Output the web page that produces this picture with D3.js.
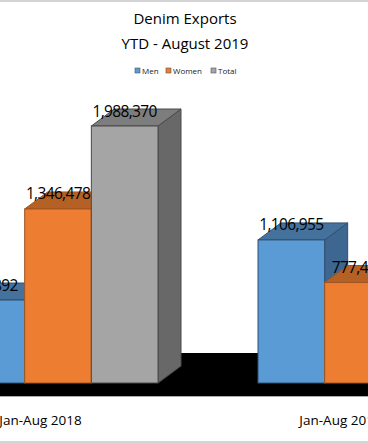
<!DOCTYPE html>
<html>
<head>
<meta charset="utf-8">
<script src="https://cdn.jsdelivr.net/npm/d3@7"></script>
<style>
  html, body { margin: 0; padding: 0; background: #ffffff; overflow: hidden; }
  text { font-family: "Open Sans", sans-serif; fill: #000000; }
</style>
</head>
<body>
<div id="chart"></div>
<script>
// Values (the right part of the chart is cut off by the crop).
const periods = ["Jan-Aug 2018", "Jan-Aug 2019"];
const seriesNames = ["Men", "Women", "Total"];
const men = [641892, 1106955];
const women = [1346478, 777450];
const total = [1988370, 1884405];
const seriesValues = [men, women, total];
const frontColors = ["#5b9bd5", "#ed7d31", "#a5a5a5"];
const topColors = ["#44729d", "#b56126", "#7d7d7d"];
const sideColors = ["#3d6690", "#a35720", "#686868"];
const edgeColors = ["#2f5070", "#a05520", "#4a4a4a"];
const titleLines = ["Denim Exports", "YTD - August 2019"];

const width = 368;
const height = 443;
// Size of the 3D depth offset.
const depthX = 23;
const depthY = 17;
const baseY = 383;

const svg = d3.select("#chart").append("svg")
  .attr("width", width)
  .attr("height", height);

// Scales: one band per period, one sub-band per series.
const x = d3.scaleBand().domain(periods).range([-92, 508]).paddingInner(1 / 3).paddingOuter(1 / 6);
const xSeries = d3.scaleBand().domain(seriesNames).range([0, x.bandwidth()]);
const y = d3.scaleLinear().domain([0, 1988370]).range([baseY, 126]);

// Grey strips of the screenshot frame.
svg.append("rect").attr("x", 0).attr("y", 0).attr("width", width).attr("height", 2).attr("fill", "#d4d4d4");
svg.append("rect").attr("x", 0).attr("y", height - 2).attr("width", width).attr("height", 2).attr("fill", "#d4d4d4");

// Title.
titleLines.forEach((line, i) => {
  svg.append("text")
    .attr("x", 185)
    .attr("y", 24 + i * 25)
    .attr("text-anchor", "middle")
    .attr("font-size", "15px")
    .text(line);
});

// Legend.
const legendX = [135, 166, 211];
seriesNames.forEach((name, i) => {
  svg.append("rect")
    .attr("x", legendX[i])
    .attr("y", 68)
    .attr("width", 5)
    .attr("height", 5)
    .attr("fill", frontColors[i])
    .attr("stroke", "#555555")
    .attr("stroke-width", 0.6);
  svg.append("text")
    .attr("x", legendX[i] + 7)
    .attr("y", 73.5)
    .attr("font-size", "8px")
    .style("fill", "#222222")
    .text(name);
});

// Black floor behind and under the bars.
svg.append("rect")
  .attr("x", 0)
  .attr("y", 353)
  .attr("width", width)
  .attr("height", 43)
  .attr("fill", "#000000");
svg.append("line")
  .attr("x1", 0).attr("x2", width)
  .attr("y1", 396.5).attr("y2", 396.5)
  .attr("stroke", "#aaaaaa")
  .attr("stroke-width", 1);

periods.forEach((period, p) => {
  const g = svg.append("g").attr("transform", `translate(${x(period)},0)`);
  seriesNames.forEach((name, s) => {
    const value = seriesValues[s][p];
    const bx = xSeries(name);
    const bw = xSeries.bandwidth();
    const top = y(value);
    const bar = g.append("g")
      .attr("stroke", edgeColors[s])
      .attr("stroke-width", 1);
    // Side face.
    bar.append("path")
      .attr("d", `M${bx + bw},${baseY}L${bx + bw + depthX},${baseY - depthY}L${bx + bw + depthX},${top - depthY}L${bx + bw},${top}Z`)
      .attr("fill", sideColors[s]);
    // Top face.
    bar.append("path")
      .attr("d", `M${bx},${top}L${bx + depthX},${top - depthY}L${bx + bw + depthX},${top - depthY}L${bx + bw},${top}Z`)
      .attr("fill", topColors[s]);
    // Front face.
    bar.append("rect")
      .attr("x", bx)
      .attr("y", top)
      .attr("width", bw)
      .attr("height", baseY - top)
      .attr("fill", frontColors[s]);
  });
  // Value labels sit on top of every bar.
  seriesNames.forEach((name, s) => {
    const value = seriesValues[s][p];
    g.append("text")
      .attr("x", xSeries(name) + xSeries.bandwidth() / 2)
      .attr("y", y(value) - 9.5)
      .attr("text-anchor", "middle")
      .attr("font-size", "15.5px")
      .attr("letter-spacing", "-0.65px")
      .text(d3.format(",")(value));
  });
  // Period label, a little left of the group's centre as in the original.
  svg.append("text")
    .attr("x", x(period) + x.bandwidth() / 2 - 17.5)
    .attr("y", 425)
    .attr("text-anchor", "middle")
    .attr("font-size", "13.5px")
    .text(period);
});
</script>
</body>
</html>
